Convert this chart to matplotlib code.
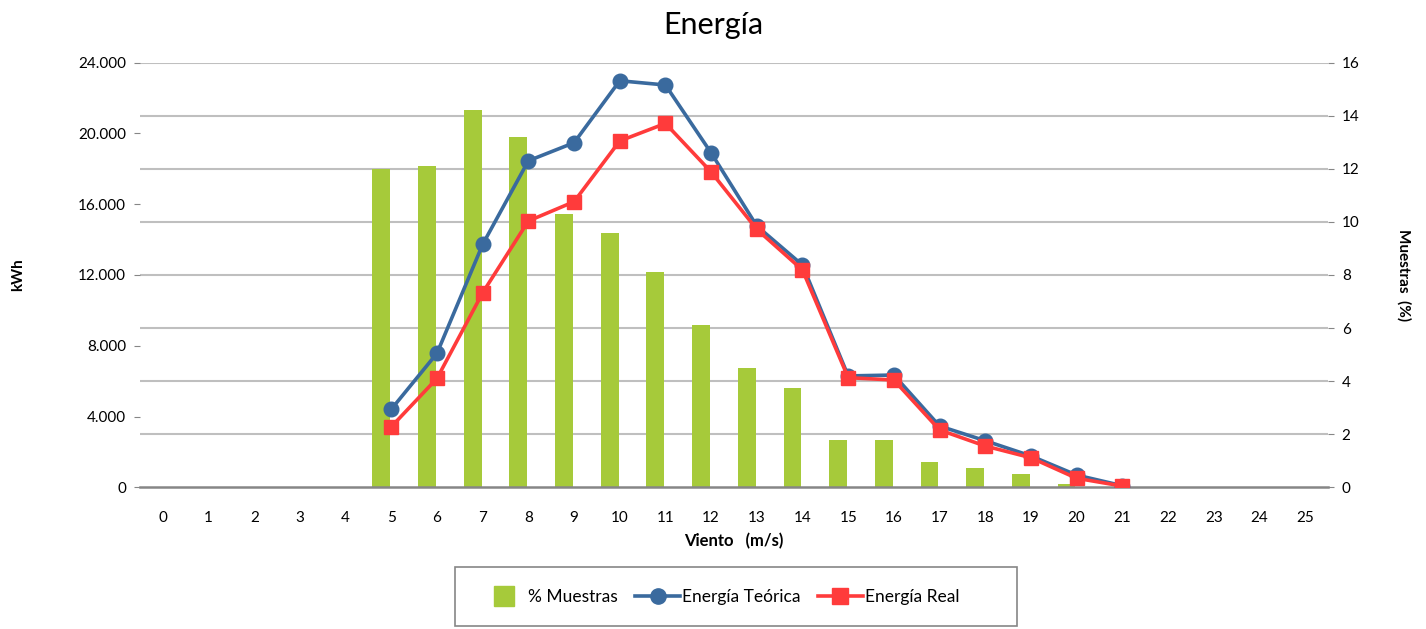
import numpy as np
import matplotlib
matplotlib.use("Agg")
import matplotlib.pyplot as plt
from matplotlib.lines import Line2D
from matplotlib.patches import Rectangle
from matplotlib.ticker import FuncFormatter

plt.rcParams['font.family'] = ['Lato', 'DejaVu Sans']

# datos
viento = list(range(0, 26))
muestras = [0, 0, 0, 0, 0, 12.0, 12.1, 14.2, 13.2, 10.3, 9.6, 8.1, 6.1, 4.5, 3.75,
            1.8, 1.8, 0.96, 0.73, 0.51, 0.13, 0, 0, 0, 0, 0]
nan = np.nan
energia_teorica = [nan, nan, nan, nan, nan, 4420, 7580, 13730, 18450, 19470, 22970,
                   22730, 18900, 14770, 12560, 6300, 6350, 3470, 2640, 1780, 700, 100,
                   nan, nan, nan, nan]
energia_real = [nan, nan, nan, nan, nan, 3430, 6160, 11000, 15050, 16140, 19570,
                20560, 17820, 14580, 12280, 6200, 6070, 3250, 2340, 1680, 520, 80,
                nan, nan, nan, nan]

verde = '#A6CA3A'
azul = '#3A6A9E'
rojo = '#FF3B3B'

fig = plt.figure(figsize=(14.26, 6.29), dpi=100)
ax = fig.add_axes([0.0982, 0.225, 0.833, 0.6756])
ax2 = ax.twinx()

# barras en el eje derecho (%)
x = np.array(viento)
ax2.bar(x - 0.22, muestras, width=0.39, color=verde, zorder=2)
ax2.set_ylim(0, 16)
ax2.set_yticks(range(0, 17, 2))

# lineas en el eje izquierdo (kWh) por encima de las barras
ax.set_zorder(ax2.get_zorder() + 1)
ax.patch.set_visible(False)
ax.plot(x, energia_teorica, color=azul, lw=2.6, marker='o', ms=10.5, zorder=3)
ax.plot(x, energia_real, color=rojo, lw=2.6, marker='s', ms=10, zorder=4)
ax.set_ylim(0, 24000)
ax.set_yticks(range(0, 24001, 4000))
ax.yaxis.set_major_formatter(FuncFormatter(lambda v, p: f'{int(v):,}'.replace(',', '.')))
ax.set_xlim(-0.5, 25.5)
ax.set_xticks(x)

# rejilla horizontal detras de las barras
for yv in range(2, 17, 2):
    ax2.axhline(yv, color='#BFBFBF', lw=1.5, zorder=0)

for a in (ax, ax2):
    for s in ('top', 'left', 'right', 'bottom'):
        a.spines[s].set_visible(False)
ax.axhline(0, color='#868686', lw=1.8, zorder=1, clip_on=False)

ax.tick_params(axis='y', colors='#868686', labelcolor='black', labelsize=11, length=4, pad=6)
ax2.tick_params(axis='y', colors='#868686', labelcolor='black', labelsize=11, length=4, pad=6)
ax.tick_params(axis='x', length=0, labelsize=11, pad=17)

ax.set_xlabel('Viento   (m/s)', fontsize=12, fontweight='bold', labelpad=6)
fig.text(0.013, 0.563, 'kWh', rotation=90, fontsize=11, fontweight='bold', ha='center', va='center')
fig.text(0.984, 0.563, 'Muestras  (%)', rotation=-90, fontsize=11, fontweight='bold', ha='center', va='center')
fig.text(0.5, 0.96, 'Energía', fontsize=22, ha='center', va='center')

# leyenda con recuadro gris
fig.patches.append(Rectangle((0.319, 0.004), 0.394, 0.094, transform=fig.transFigure,
                             fill=False, edgecolor='#868686', lw=1.2))
handles = [
    Line2D([], [], color=verde, marker='s', ls='none', ms=14),
    Line2D([], [], color=azul, lw=2.6, marker='o', ms=11),
    Line2D([], [], color=rojo, lw=2.6, marker='s', ms=11),
]
fig.legend(handles, ['% Muestras', 'Energía Teórica', 'Energía Real'], loc='center',
           bbox_to_anchor=(0.505, 0.051), ncol=3, frameon=False, fontsize=12.5,
           handlelength=2.6, handletextpad=0.1, columnspacing=1.0)

fig.savefig('out.png', dpi=100)
